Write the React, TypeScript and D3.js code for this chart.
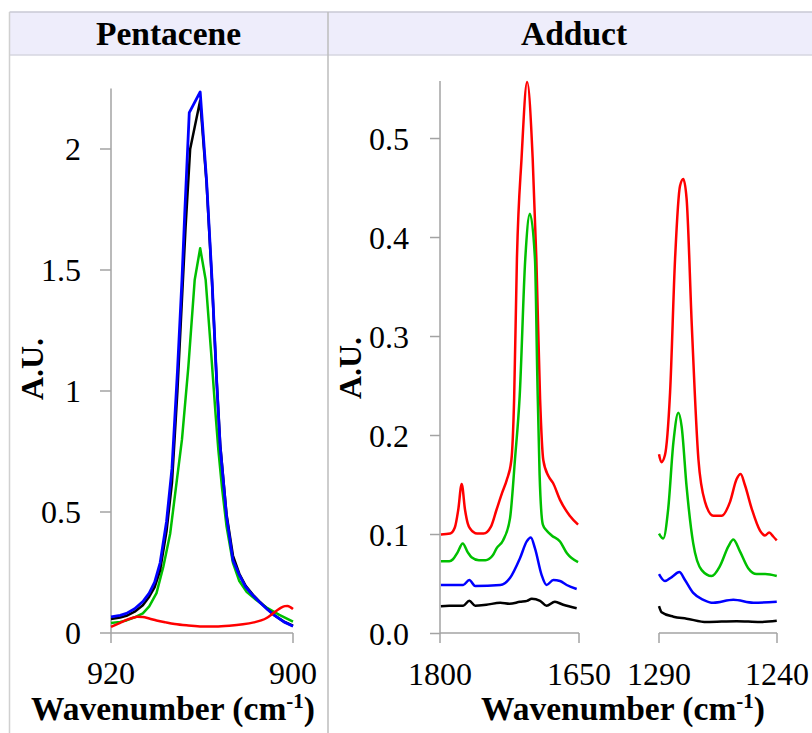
import React from 'react';
import * as d3 from 'd3';

// ---------- data (wavenumber cm-1, absorbance A.U.) ----------
const pentTicksY = [0, 0.5, 1, 1.5, 2];
const pentTicksX = [920, 900];
const addTicksY = [0, 0.1, 0.2, 0.3, 0.4, 0.5];
const addTicksXA = [1800, 1650];
const addTicksXB = [1290, 1240];

const pentBlue: [number, number][] = [
  [920, 0.067], [919, 0.073], [918.3, 0.081], [917.4, 0.10], [916.5, 0.13], [915.8, 0.165],
  [915.2, 0.21], [914.6, 0.29], [913.9, 0.46], [913.3, 0.68], [912.7, 1.08], [912.2, 1.46],
  [911.9, 1.73], [911.4, 2.15], [910.2, 2.236], [909.5, 1.87], [908.9, 1.46], [908.4, 1.05],
  [908.0, 0.77], [907.3, 0.48], [906.6, 0.30], [905.9, 0.24], [905.2, 0.19], [904.4, 0.155],
  [903.6, 0.125], [902.8, 0.097], [902.0, 0.072], [901, 0.046], [900, 0.028],
];
const pentBlack: [number, number][] = [
  [920, 0.058], [919, 0.064], [918.3, 0.071], [917.4, 0.088], [916.5, 0.115], [915.8, 0.15],
  [915.2, 0.19], [914.6, 0.26], [913.9, 0.42], [913.3, 0.62], [912.7, 1.0], [912.2, 1.38],
  [911.8, 1.68], [911.3, 2.0], [910.2, 2.20], [909.5, 1.86], [908.9, 1.45], [908.4, 1.05],
  [908.0, 0.78], [907.3, 0.49], [906.6, 0.32], [905.9, 0.245], [905.2, 0.195], [904.4, 0.158],
  [903.6, 0.127], [902.8, 0.098], [902.0, 0.072], [901, 0.047], [900, 0.03],
];
const pentGreen: [number, number][] = [
  [920, 0.041], [919, 0.046], [918.3, 0.052], [917.4, 0.065], [916.5, 0.081], [915.8, 0.11],
  [915.0, 0.165], [914.25, 0.274], [913.5, 0.41], [912.8, 0.62], [912.2, 0.80], [911.5, 1.1],
  [910.8, 1.46], [910.2, 1.59], [909.6, 1.46], [909.0, 1.16], [908.5, 0.9], [908.2, 0.756],
  [907.8, 0.6], [907.3, 0.44], [906.6, 0.29], [905.9, 0.215], [905.1, 0.17], [904.0, 0.135],
  [902.9, 0.105], [901.5, 0.075], [900, 0.047],
];
const pentRed: [number, number][] = [
  [920, 0.025], [919, 0.042], [918.3, 0.054], [917.6, 0.063], [917.1, 0.067], [916.5, 0.066],
  [915.8, 0.06], [915.0, 0.052], [914, 0.044], [913, 0.037], [911.5, 0.031], [910, 0.027],
  [908.5, 0.027], [907, 0.030], [905.5, 0.036], [904.3, 0.044], [903.5, 0.052], [902.9, 0.062],
  [902.3, 0.078], [901.7, 0.095], [901.3, 0.105], [900.9, 0.111], [900.6, 0.112], [900.3, 0.107],
  [900, 0.099],
];

const addRedA: [number, number][] = [
  [1799, 0.100], [1789, 0.101], [1784, 0.107], [1780.3, 0.125], [1776.6, 0.151], [1773, 0.125],
  [1770, 0.111], [1767.6, 0.106], [1760, 0.101], [1753, 0.101], [1745, 0.108], [1739, 0.125],
  [1733, 0.142], [1728, 0.155], [1723, 0.175], [1720, 0.237], [1717, 0.378], [1712, 0.48],
  [1706, 0.557], [1700, 0.48], [1696, 0.378], [1692, 0.237], [1688.5, 0.175], [1683, 0.159],
  [1678, 0.152], [1670.5, 0.135], [1660, 0.119], [1651, 0.110],
];
const addGreenA: [number, number][] = [
  [1799, 0.073], [1790, 0.073], [1786, 0.075], [1781, 0.082], [1775.5, 0.091], [1770, 0.082],
  [1766, 0.077], [1758, 0.074], [1751, 0.074], [1743, 0.079], [1739, 0.086], [1732, 0.094],
  [1724.5, 0.116], [1719, 0.177], [1714, 0.24], [1708, 0.378], [1703, 0.424], [1697.5, 0.378],
  [1695, 0.26], [1692.5, 0.16], [1689, 0.11], [1685, 0.104], [1679.5, 0.099], [1670.5, 0.093],
  [1663, 0.081], [1651, 0.072],
];
const addBlueA: [number, number][] = [
  [1799, 0.049], [1775, 0.049], [1768.4, 0.054], [1762, 0.048], [1735, 0.049], [1724.5, 0.056],
  [1713.7, 0.076], [1706.4, 0.093], [1702, 0.097], [1697.5, 0.086], [1690.3, 0.059], [1685, 0.049],
  [1677.7, 0.054], [1670.5, 0.053], [1663.3, 0.049], [1652.5, 0.045],
];
const addBlackA: [number, number][] = [
  [1799, 0.0276], [1790, 0.028], [1775, 0.028], [1768.4, 0.033], [1762, 0.028], [1750, 0.029],
  [1735, 0.031], [1725, 0.030], [1713.7, 0.032], [1706, 0.033], [1701, 0.035], [1692, 0.033],
  [1685, 0.028], [1676, 0.032], [1667, 0.029], [1652.5, 0.0255],
];

const addRedB: [number, number][] = [
  [1290, 0.181], [1289, 0.173], [1287.5, 0.18], [1285.3, 0.244], [1283.2, 0.378], [1281.1, 0.452],
  [1279.7, 0.459], [1278.3, 0.439], [1276.1, 0.311], [1273.3, 0.176], [1270.5, 0.133], [1267, 0.119],
  [1263.4, 0.119], [1259.9, 0.133], [1257.1, 0.156], [1255.4, 0.161], [1253.6, 0.15], [1250.7, 0.126],
  [1247.2, 0.104], [1245.1, 0.099], [1243.3, 0.102], [1241.6, 0.098], [1240.1, 0.094],
];
const addGreenB: [number, number][] = [
  [1290, 0.101], [1288.2, 0.096], [1286.1, 0.126], [1283.9, 0.193], [1281.8, 0.223], [1280.4, 0.209],
  [1278.3, 0.148], [1275.5, 0.091], [1271.9, 0.064], [1267.7, 0.058], [1264.2, 0.068], [1260.6, 0.088],
  [1258.5, 0.095], [1255.7, 0.083], [1252.2, 0.066], [1248.6, 0.060], [1245, 0.060], [1240.1, 0.058],
];
const addBlueB: [number, number][] = [
  [1290, 0.060], [1287.5, 0.053], [1284.6, 0.057], [1281.4, 0.062], [1279, 0.054], [1275.5, 0.041],
  [1271.2, 0.034], [1267, 0.031], [1258.5, 0.034], [1250, 0.031], [1240.1, 0.032],
];
const addBlackB: [number, number][] = [
  [1290, 0.0276], [1288.9, 0.0215], [1283.9, 0.017], [1278.3, 0.015], [1269.8, 0.0115],
  [1257.1, 0.0125], [1247.2, 0.0115], [1240.1, 0.0128],
];

// ---------- styling ----------
const FONT = '"Liberation Serif", "Times New Roman", serif';
const AXIS = '#a3a3a3';
const RED = '#ff0000';
const GREEN = '#00c000';
const BLUE = '#0000ff';
const BLACK = '#000000';

const pentX = d3.scaleLinear().domain([920, 900]).range([111, 293]);
const pentY = d3.scaleLinear().domain([0, 2.25]).range([633, 88.5]);
const addXA = d3.scaleLinear().domain([1800, 1650]).range([440, 579]);
const addXB = d3.scaleLinear().domain([1290, 1240]).range([659, 777]);
const addY = d3.scaleLinear().domain([0, 0.558]).range([633.5, 81.1]);

function path(
  data: [number, number][],
  x: d3.ScaleLinear<number, number>,
  y: d3.ScaleLinear<number, number>,
  curve: d3.CurveFactory = d3.curveMonotoneX,
) {
  return d3.line<[number, number]>()
    .x(d => x(d[0]))
    .y(d => y(d[1]))
    .curve(curve)(data) || '';
}

function XTitle({ cx }: { cx: number }) {
  return (
    <text x={cx} y={720} textAnchor="middle" fontFamily={FONT} fontWeight="bold" fontSize={33.5} fill="#000">
      Wavenumber (cm<tspan fontSize={21} dy={-12}>-1</tspan><tspan dy={12}>)</tspan>
    </text>
  );
}

export default function App() {
  const baseY = 633;
  return (
    <svg width={812} height={733} style={{ position: 'absolute', left: 0, top: 0, background: '#fff' }}>
      {/* table frame */}
      <rect x={9.5} y={12} width={820} height={43} fill="#eeedfb" />
      <line x1={9.5} x2={812} y1={12} y2={12} stroke="#c9c9d4" strokeWidth={1.5} />
      <line x1={9.5} x2={812} y1={55} y2={55} stroke="#d6d6e0" strokeWidth={1.5} />
      <line x1={9.5} x2={9.5} y1={12} y2={733} stroke="#d0d0d0" strokeWidth={1.5} />
      <line x1={328} x2={328} y1={12} y2={733} stroke="#bcbcbc" strokeWidth={1.5} />
      <text x={168.5} y={45} textAnchor="middle" fontFamily={FONT} fontWeight="bold" fontSize={33.5}>Pentacene</text>
      <text x={574} y={45} textAnchor="middle" fontFamily={FONT} fontWeight="bold" fontSize={33.5}>Adduct</text>

      {/* ---------- Pentacene panel ---------- */}
      <g>
        <line x1={111} x2={111} y1={pentY(0)} y2={pentY.range()[1]} stroke={AXIS} strokeWidth={1.5} />
        <line x1={111} x2={293} y1={baseY} y2={baseY} stroke={AXIS} strokeWidth={1.5} />
        {pentTicksY.map(t => (
          <g key={t}>
            <line x1={100} x2={111} y1={pentY(t)} y2={pentY(t)} stroke={AXIS} strokeWidth={1.5} />
            <text x={81} y={pentY(t)} dy="0.35em" textAnchor="end" fontFamily={FONT} fontSize={32}>{String(t)}</text>
          </g>
        ))}
        {pentTicksX.map(t => (
          <g key={t}>
            <line x1={pentX(t)} x2={pentX(t)} y1={baseY} y2={baseY + 10} stroke={AXIS} strokeWidth={1.5} />
            <text x={pentX(t)} y={684} textAnchor="middle" fontFamily={FONT} fontSize={32}>{t}</text>
          </g>
        ))}
        <text transform="translate(43,369) rotate(-90)" textAnchor="middle" fontFamily={FONT} fontWeight="bold" fontSize={32}>A.U.</text>
        <XTitle cx={173} />
        <path d={path(pentGreen, pentX, pentY, d3.curveLinear)} fill="none" stroke={GREEN} strokeWidth={2.5} strokeLinejoin="round" />
        <path d={path(pentBlack, pentX, pentY, d3.curveLinear)} fill="none" stroke={BLACK} strokeWidth={2.5} strokeLinejoin="round" />
        <path d={path(pentBlue, pentX, pentY, d3.curveLinear)} fill="none" stroke={BLUE} strokeWidth={2.8} strokeLinejoin="round" />
        <path d={path(pentRed, pentX, pentY)} fill="none" stroke={RED} strokeWidth={2.5} />
      </g>

      {/* ---------- Adduct panel ---------- */}
      <g>
        <line x1={440} x2={440} y1={addY(0)} y2={addY.range()[1]} stroke={AXIS} strokeWidth={1.5} />
        <line x1={440} x2={579} y1={baseY} y2={baseY} stroke={AXIS} strokeWidth={1.5} />
        <line x1={659} x2={777} y1={baseY} y2={baseY} stroke={AXIS} strokeWidth={1.5} />
        {addTicksY.map(t => (
          <g key={t}>
            <line x1={430} x2={440} y1={addY(t)} y2={addY(t)} stroke={AXIS} strokeWidth={1.5} />
            <text x={409} y={addY(t)} dy="0.35em" textAnchor="end" fontFamily={FONT} fontSize={32}>{d3.format('.1f')(t)}</text>
          </g>
        ))}
        {addTicksXA.map(t => (
          <g key={t}>
            <line x1={addXA(t)} x2={addXA(t)} y1={baseY} y2={baseY + 10} stroke={AXIS} strokeWidth={1.5} />
            <text x={addXA(t)} y={685} textAnchor="middle" fontFamily={FONT} fontSize={32}>{t}</text>
          </g>
        ))}
        {addTicksXB.map(t => (
          <g key={t}>
            <line x1={addXB(t)} x2={addXB(t)} y1={baseY} y2={baseY + 10} stroke={AXIS} strokeWidth={1.5} />
            <text x={addXB(t)} y={685} textAnchor="middle" fontFamily={FONT} fontSize={32}>{t}</text>
          </g>
        ))}
        <text transform="translate(361,368) rotate(-90)" textAnchor="middle" fontFamily={FONT} fontWeight="bold" fontSize={32}>A.U.</text>
        <XTitle cx={623} />
        <path d={path(addRedA, addXA, addY)} fill="none" stroke={RED} strokeWidth={2.5} />
        <path d={path(addGreenA, addXA, addY)} fill="none" stroke={GREEN} strokeWidth={2.5} />
        <path d={path(addBlueA, addXA, addY)} fill="none" stroke={BLUE} strokeWidth={2.5} />
        <path d={path(addBlackA, addXA, addY)} fill="none" stroke={BLACK} strokeWidth={2.5} />
        <path d={path(addRedB, addXB, addY)} fill="none" stroke={RED} strokeWidth={2.5} />
        <path d={path(addGreenB, addXB, addY)} fill="none" stroke={GREEN} strokeWidth={2.5} />
        <path d={path(addBlueB, addXB, addY)} fill="none" stroke={BLUE} strokeWidth={2.5} />
        <path d={path(addBlackB, addXB, addY)} fill="none" stroke={BLACK} strokeWidth={2.5} />
      </g>
    </svg>
  );
}
